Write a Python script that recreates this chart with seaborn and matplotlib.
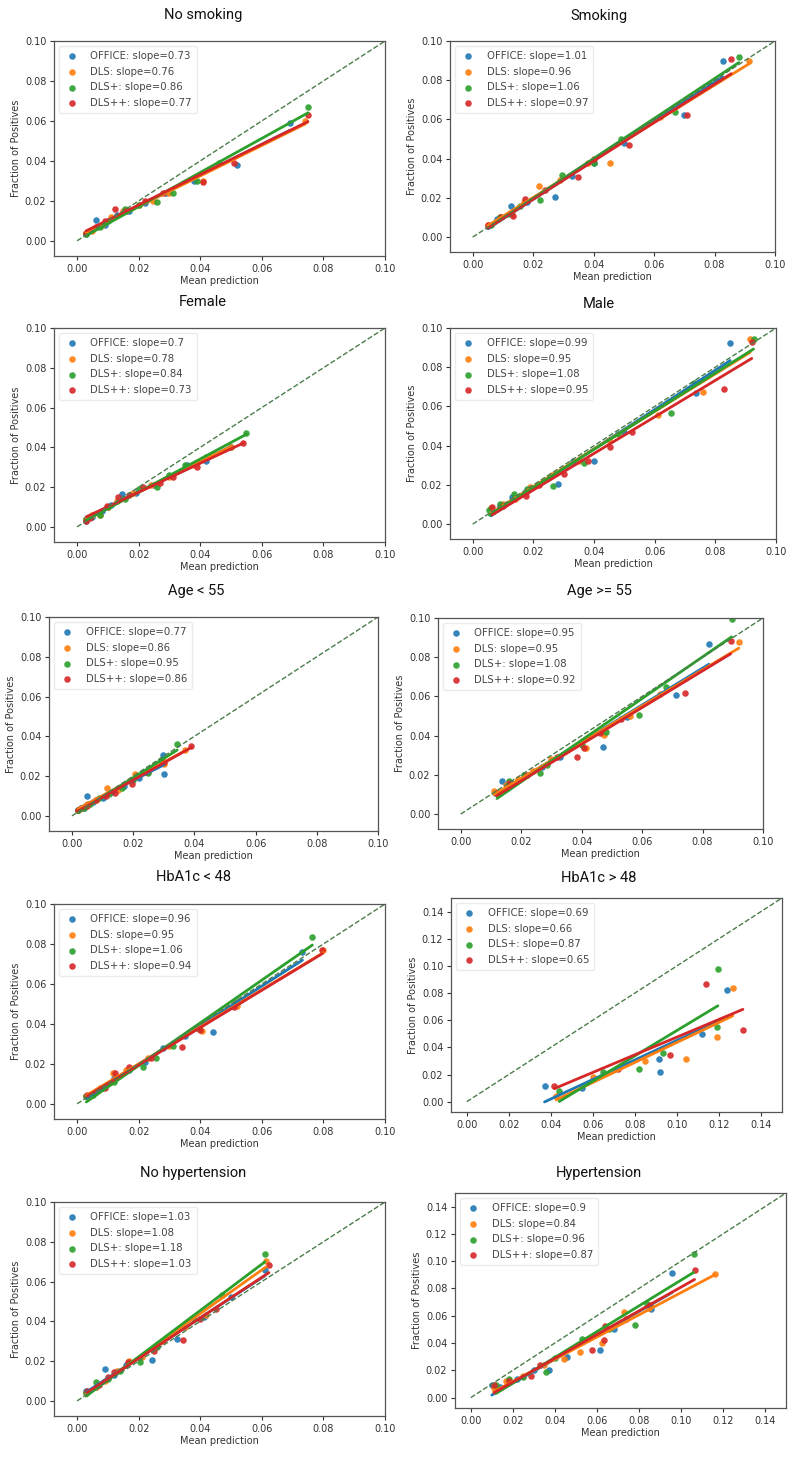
import matplotlib
matplotlib.use("Agg")
import matplotlib.pyplot as plt
import seaborn as sns
import pandas as pd

# ---------------- data ----------------
models = ["OFFICE", "DLS", "DLS+", "DLS++"]
titles = ["No smoking", "Smoking", "Female", "Male", "Age < 55", "Age >= 55",
          "HbA1c < 48", "HbA1c > 48", "No hypertension", "Hypertension"]
slopes = [
    ["0.73", "0.76", "0.86", "0.77"],
    ["1.01", "0.96", "1.06", "0.97"],
    ["0.7", "0.78", "0.84", "0.73"],
    ["0.99", "0.95", "1.08", "0.95"],
    ["0.77", "0.86", "0.95", "0.86"],
    ["0.95", "0.95", "1.08", "0.92"],
    ["0.96", "0.95", "1.06", "0.94"],
    ["0.69", "0.66", "0.87", "0.65"],
    ["1.03", "1.08", "1.18", "1.03"],
    ["0.9", "0.84", "0.96", "0.87"],
]
axis_max = [0.10, 0.10, 0.10, 0.10, 0.10, 0.10, 0.10, 0.15, 0.10, 0.15]

no_smoking_x = [
    [0.003, 0.0063, 0.009, 0.013, 0.017, 0.022, 0.029, 0.038, 0.052, 0.069],
    [0.003, 0.005, 0.008, 0.011, 0.015, 0.020, 0.0245, 0.030, 0.041, 0.074],
    [0.003, 0.0075, 0.010, 0.0155, 0.020, 0.026, 0.031, 0.039, 0.046, 0.075],
    [0.003, 0.006, 0.009, 0.0123, 0.016, 0.022, 0.028, 0.041, 0.051, 0.075],
]
no_smoking_y = [
    [0.0035, 0.0103, 0.008, 0.013, 0.015, 0.019, 0.024, 0.030, 0.038, 0.059],
    [0.004, 0.005, 0.008, 0.012, 0.015, 0.018, 0.020, 0.024, 0.030, 0.060],
    [0.0035, 0.007, 0.010, 0.0157, 0.018, 0.0195, 0.024, 0.030, 0.039, 0.067],
    [0.004, 0.007, 0.010, 0.016, 0.015, 0.020, 0.024, 0.0295, 0.039, 0.063],
]
smoking_x = [
    [0.005, 0.008, 0.0127, 0.018, 0.0273, 0.033, 0.040, 0.050, 0.0698, 0.0827],
    [0.005, 0.009, 0.013, 0.017, 0.022, 0.029, 0.038, 0.0454, 0.062, 0.0915],
    [0.006, 0.009, 0.012, 0.0157, 0.0224, 0.0295, 0.040, 0.049, 0.067, 0.088],
    [0.005, 0.0094, 0.0132, 0.0174, 0.024, 0.035, 0.040, 0.0516, 0.0709, 0.0855],
]
smoking_y = [
    [0.0056, 0.009, 0.016, 0.018, 0.0205, 0.031, 0.038, 0.048, 0.0623, 0.0898],
    [0.006, 0.010, 0.012, 0.018, 0.026, 0.029, 0.038, 0.038, 0.061, 0.090],
    [0.006, 0.010, 0.012, 0.0157, 0.019, 0.0315, 0.038, 0.050, 0.064, 0.092],
    [0.006, 0.010, 0.011, 0.0195, 0.024, 0.0306, 0.0398, 0.047, 0.0623, 0.091],
]
female_x = [
    [0.003, 0.005, 0.008, 0.011, 0.0145, 0.019, 0.025, 0.0357, 0.042, 0.050],
    [0.003, 0.005, 0.0075, 0.010, 0.013, 0.018, 0.024, 0.030, 0.038, 0.050],
    [0.003, 0.0076, 0.010, 0.0155, 0.020, 0.026, 0.030, 0.035, 0.042, 0.055],
    [0.003, 0.0041, 0.0098, 0.0134, 0.017, 0.0213, 0.027, 0.031, 0.039, 0.054],
]
female_y = [
    [0.003, 0.005, 0.008, 0.011, 0.0164, 0.017, 0.021, 0.031, 0.033, 0.040],
    [0.004, 0.006, 0.006, 0.010, 0.013, 0.017, 0.021, 0.025, 0.031, 0.040],
    [0.004, 0.0059, 0.010, 0.014, 0.019, 0.020, 0.026, 0.031, 0.035, 0.0471],
    [0.003, 0.0047, 0.0106, 0.0148, 0.016, 0.0203, 0.022, 0.0253, 0.030, 0.042],
]
male_x = [
    [0.006, 0.009, 0.013, 0.018, 0.028, 0.033, 0.0399, 0.050, 0.0735, 0.0849],
    [0.006, 0.010, 0.014, 0.019, 0.026, 0.035, 0.045, 0.061, 0.076, 0.0915],
    [0.0055, 0.009, 0.0136, 0.018, 0.0266, 0.0366, 0.048, 0.0655, 0.073, 0.0926],
    [0.0064, 0.010, 0.0175, 0.022, 0.030, 0.038, 0.0453, 0.0526, 0.0827, 0.092],
]
male_y = [
    [0.008, 0.009, 0.014, 0.017, 0.0204, 0.032, 0.0321, 0.047, 0.0668, 0.0922],
    [0.008, 0.010, 0.013, 0.019, 0.025, 0.032, 0.043, 0.0556, 0.0672, 0.0944],
    [0.007, 0.010, 0.0156, 0.018, 0.0192, 0.0311, 0.046, 0.0566, 0.072, 0.0944],
    [0.0085, 0.009, 0.0141, 0.020, 0.0253, 0.032, 0.0391, 0.0471, 0.0689, 0.093],
]
age_lt55_x = [
    [0.002, 0.004, 0.005, 0.007, 0.010, 0.013, 0.017, 0.022, 0.0297, 0.030],
    [0.002, 0.003, 0.005, 0.008, 0.0115, 0.015, 0.0205, 0.025, 0.030, 0.037],
    [0.002, 0.004, 0.006, 0.009, 0.012, 0.0163, 0.020, 0.0248, 0.029, 0.0344],
    [0.002, 0.003, 0.005, 0.008, 0.011, 0.014, 0.0196, 0.024, 0.030, 0.039],
]
age_lt55_y = [
    [0.003, 0.004, 0.010, 0.007, 0.009, 0.012, 0.015, 0.019, 0.0307, 0.0211],
    [0.003, 0.004, 0.006, 0.008, 0.0139, 0.013, 0.021, 0.022, 0.026, 0.033],
    [0.003, 0.004, 0.006, 0.009, 0.011, 0.0138, 0.018, 0.0215, 0.028, 0.036],
    [0.003, 0.004, 0.005, 0.008, 0.010, 0.0117, 0.0161, 0.022, 0.027, 0.0349],
]
age_ge55_x = [
    [0.0115, 0.0136, 0.017, 0.021, 0.027, 0.033, 0.0471, 0.0551, 0.0711, 0.0821],
    [0.011, 0.015, 0.019, 0.024, 0.030, 0.0413, 0.0474, 0.056, 0.066, 0.092],
    [0.012, 0.016, 0.021, 0.0262, 0.0287, 0.040, 0.048, 0.059, 0.068, 0.0896],
    [0.0119, 0.016, 0.022, 0.032, 0.0384, 0.0408, 0.0461, 0.0529, 0.0742, 0.0893],
]
age_ge55_y = [
    [0.011, 0.0167, 0.016, 0.020, 0.024, 0.029, 0.034, 0.0493, 0.0609, 0.0867],
    [0.012, 0.015, 0.018, 0.022, 0.028, 0.0337, 0.0403, 0.050, 0.061, 0.0878],
    [0.011, 0.017, 0.020, 0.0209, 0.025, 0.035, 0.042, 0.0505, 0.065, 0.0995],
    [0.011, 0.016, 0.020, 0.029, 0.0289, 0.0335, 0.0413, 0.0485, 0.0617, 0.0884],
]
hba1c_lt48_x = [
    [0.003, 0.005, 0.008, 0.012, 0.017, 0.022, 0.028, 0.035, 0.0441, 0.0732],
    [0.003, 0.005, 0.0075, 0.0117, 0.016, 0.023, 0.030, 0.0405, 0.052, 0.080],
    [0.003, 0.0052, 0.008, 0.012, 0.0213, 0.0257, 0.0313, 0.039, 0.052, 0.0764],
    [0.0033, 0.006, 0.009, 0.0123, 0.0168, 0.024, 0.034, 0.040, 0.0509, 0.0797],
]
hba1c_lt48_y = [
    [0.004, 0.005, 0.008, 0.013, 0.017, 0.021, 0.028, 0.034, 0.0359, 0.076],
    [0.004, 0.005, 0.008, 0.0155, 0.017, 0.023, 0.029, 0.0364, 0.049, 0.077],
    [0.004, 0.0042, 0.008, 0.011, 0.0185, 0.023, 0.0289, 0.038, 0.051, 0.0836],
    [0.0042, 0.006, 0.008, 0.0152, 0.0185, 0.023, 0.0285, 0.037, 0.0484, 0.0768],
]
hba1c_gt48_x = [
    [0.037, 0.055, 0.0917, 0.092, 0.1117, 0.124],
    [0.0425, 0.060, 0.085, 0.1042, 0.1193, 0.1266],
    [0.044, 0.065, 0.0818, 0.0936, 0.1193, 0.1195],
    [0.0417, 0.0719, 0.0968, 0.114, 0.1314],
]
hba1c_gt48_y = [
    [0.0117, 0.010, 0.0318, 0.022, 0.0496, 0.082],
    [0.0044, 0.018, 0.030, 0.0318, 0.0479, 0.0838],
    [0.008, 0.022, 0.024, 0.0357, 0.0552, 0.098],
    [0.0117, 0.024, 0.0342, 0.0867, 0.0525],
]
no_hyp_x = [
    [0.003, 0.006, 0.009, 0.012, 0.016, 0.0242, 0.0324, 0.0411, 0.050, 0.061],
    [0.003, 0.006, 0.009, 0.013, 0.017, 0.021, 0.028, 0.035, 0.042, 0.0614],
    [0.003, 0.0063, 0.010, 0.014, 0.0204, 0.026, 0.031, 0.038, 0.047, 0.061],
    [0.0033, 0.007, 0.010, 0.012, 0.0166, 0.0251, 0.0343, 0.040, 0.045, 0.0623],
]
no_hyp_y = [
    [0.005, 0.007, 0.0162, 0.013, 0.018, 0.0204, 0.0313, 0.0422, 0.052, 0.066],
    [0.004, 0.007, 0.010, 0.015, 0.020, 0.022, 0.030, 0.037, 0.043, 0.0704],
    [0.004, 0.0095, 0.011, 0.015, 0.0196, 0.027, 0.034, 0.041, 0.053, 0.0737],
    [0.0049, 0.008, 0.012, 0.0146, 0.0196, 0.025, 0.0305, 0.041, 0.046, 0.0682],
]
hyp_x = [
    [0.010, 0.014, 0.022, 0.030, 0.0372, 0.046, 0.0614, 0.068, 0.0858, 0.0957],
    [0.011, 0.017, 0.025, 0.035, 0.0443, 0.0522, 0.0625, 0.0731, 0.085, 0.116],
    [0.012, 0.0182, 0.025, 0.0359, 0.040, 0.053, 0.066, 0.0783, 0.084, 0.106],
    [0.011, 0.018, 0.0285, 0.033, 0.0578, 0.0633, 0.064, 0.074, 0.0851, 0.1065],
]
hyp_y = [
    [0.009, 0.008, 0.014, 0.020, 0.0205, 0.030, 0.0351, 0.050, 0.0651, 0.0912],
    [0.007, 0.012, 0.016, 0.024, 0.0283, 0.0332, 0.040, 0.0627, 0.066, 0.0905],
    [0.009, 0.0139, 0.015, 0.0188, 0.029, 0.0432, 0.050, 0.0534, 0.069, 0.1051],
    [0.0095, 0.012, 0.0156, 0.024, 0.0351, 0.0424, 0.0527, 0.058, 0.0676, 0.0937],
]

panel_x = [no_smoking_x, smoking_x, female_x, male_x, age_lt55_x, age_ge55_x,
           hba1c_lt48_x, hba1c_gt48_x, no_hyp_x, hyp_x]
panel_y = [no_smoking_y, smoking_y, female_y, male_y, age_lt55_y, age_ge55_y,
           hba1c_lt48_y, hba1c_gt48_y, no_hyp_y, hyp_y]

# ---------------- layout (pixel boxes: left, right, top, bottom) ----------------
W, H = 792, 1465
boxes = [
    (54, 385, 41, 256), (450, 775, 41, 252),
    (54, 385, 328, 542), (450, 776, 328, 539),
    (49, 378, 617, 831), (438, 763, 618, 829),
    (54, 385, 904, 1119), (451, 782, 898, 1112),
    (54, 385, 1202, 1416), (455, 786, 1193, 1408),
]
title_pos = [(203, 15), (599, 16), (203, 302), (599, 304), (196, 591), (599, 591),
             (193, 877), (599, 878), (193, 1173), (599, 1173)]

sns.set_style("ticks")
plt.rcParams["font.family"] = ["DejaVu Sans"]
colors = ["#1f77b4", "#ff7f0e", "#2ca02c", "#d62728"]

fig = plt.figure(figsize=(W / 100, H / 100), dpi=100)
fig.patch.set_facecolor("white")

for i, (l, r, t, b) in enumerate(boxes):
    ax = fig.add_axes([l / W, 1 - b / H, (r - l) / W, (b - t) / H])
    for j, m in enumerate(models):
        df = pd.DataFrame({"pred": panel_x[i][j], "frac": panel_y[i][j]})
        sns.regplot(data=df, x="pred", y="frac", ax=ax, ci=None, color=colors[j],
                    label=f"{m}: slope={slopes[i][j]}",
                    scatter_kws={"s": 22, "alpha": 0.9, "linewidths": 0},
                    line_kws={"lw": 2.0})
    mx = axis_max[i]
    ax.plot([0, mx], [0, mx], "--", color="#4a7d4a", lw=1.0)
    ax.set_xlim(-0.0075, mx)
    ax.set_ylim(-0.0076, mx)
    ax.set_xlabel("Mean prediction", fontsize=7, color="#333333", labelpad=1.5)
    ax.set_ylabel("Fraction of Positives", fontsize=7, color="#333333", labelpad=3)
    ax.tick_params(labelsize=7, colors="#333333", length=3, width=0.8, pad=2.5)
    for sp in ax.spines.values():
        sp.set_color("#555555")
        sp.set_linewidth(0.9)
    leg = ax.legend(loc="upper left", fontsize=7.3, handletextpad=1.0,
                    borderpad=0.5, labelspacing=0.55, markerscale=1.0,
                    frameon=True, handlelength=1.6)
    leg.get_frame().set_edgecolor("#e6e6e6")
    for txt in leg.get_texts():
        txt.set_color("#444444")
    tx, ty = title_pos[i]
    fig.text(tx / W, 1 - ty / H, titles[i], ha="center", va="center",
             fontsize=10.5, family=["Roboto", "DejaVu Sans"], color="#111111")

fig.savefig("out.png", dpi=100, facecolor="white")
